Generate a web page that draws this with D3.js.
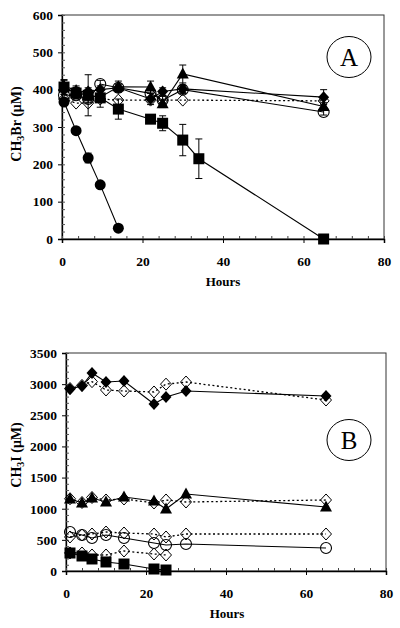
<!DOCTYPE html>
<html><head><meta charset="utf-8">
<script src="https://cdn.jsdelivr.net/npm/d3@7"></script>
<style>body{margin:0;background:#fff}svg{display:block}</style>
</head><body>
<script>
// ---------- Panel A data (CH3Br, µM) ----------
const hoursA = [0.5, 3.5, 6.5, 9.5, 14, 22, 25, 30, 65];
const hoursA_sq = [0.5, 3.5, 6.5, 9.5, 14, 22, 25, 30, 34, 65];
const hoursA_ci = [0.5, 3.5, 6.5, 9.5, 14];
const A_diamondFilled = [400, 395, 395, 400, 405, 375, 395, 402, 380];
const A_diamondFilledErr = [12, 10, 10, 10, 10, 15, 10, 10, 20];
const A_triangle = [410, 398, 385, 380, 408, 407, 362, 442, 355];
const A_triangleErr = [15, 12, 15, 10, 15, 16, 10, 24, 10];
const A_circleOpen = [385, 385, 375, 415, 405, 390, 372, 400, 340];
const A_circleOpenErr = [10, 10, 10, 10, 10, 10, 10, 10, 8];
const A_diamondOpen = [375, 364, 364, 375, 372, 372, 372, 372, 370];
const A_square = [407, 391, 385, 378, 348, 321, 310, 265, 215, 0];
const A_squareErr = [20, 15, 55, 25, 27, 10, 20, 42, 53, 0];
const A_circleFilled = [367, 290, 217, 145, 29];
const A_circleFilledErr = [8, 5, 13, 5, 6];
const ticksA_y = [0, 100, 200, 300, 400, 500, 600];

// ---------- Panel B data (CH3I, µM) ----------
const hoursB = [1, 4, 6.5, 10, 14.5, 22, 25, 30, 65];
const hoursB_short = [1, 4, 6.5, 10, 14.5, 22, 25];
const B_diamondFilled = [2921, 2970, 3178, 3034, 3050, 2681, 2793, 2890, 2810];
const B_diamondOpenTop = [2930, 2980, 3040, 2906, 2890, 2874, 3000, 3034, 2745];
const B_triangle = [1156, 1092, 1172, 1108, 1188, 1124, 995, 1236, 1027];
const B_diamondOpen2 = [1160, 1100, 1180, 1140, 1156, 1092, 1140, 1108, 1140];
const B_circleOpen = [626, 578, 530, 578, 530, 450, 417, 434, 369];
const B_diamondOpen3 = [546, 578, 594, 626, 610, 594, 546, 594, 594];
const B_diamondOpen4 = [290, 289, 257, 257, 321, 273, 257];
const B_square = [289, 241, 193, 145, 112, 32, 16];
const ticksB_y = [0, 500, 1000, 1500, 2000, 2500, 3000, 3500];
const ticksX = [0, 20, 40, 60, 80];

const FONT = "'Liberation Serif', 'Times New Roman', serif";
const svg = d3.select("body").append("svg").attr("width", 400).attr("height", 628);

function marker(g, type, x, y) {
  if (type === "circleFilled") g.append("circle").attr("cx", x).attr("cy", y).attr("r", 5.5).attr("fill", "#000");
  else if (type === "circleOpen") g.append("circle").attr("cx", x).attr("cy", y).attr("r", 5.5).attr("fill", "none").attr("stroke", "#000").attr("stroke-width", 1.1);
  else if (type === "square") g.append("rect").attr("x", x - 5.5).attr("y", y - 5.5).attr("width", 11).attr("height", 11).attr("fill", "#000");
  else if (type === "triangle") g.append("path").attr("d", `M${x},${y-6.5}L${x+6},${y+4.5}L${x-6},${y+4.5}Z`).attr("fill", "#000");
  else if (type === "diamondFilled") g.append("path").attr("d", `M${x},${y-6}L${x+5.5},${y}L${x},${y+6}L${x-5.5},${y}Z`).attr("fill", "#000");
  else if (type === "diamondOpen") g.append("path").attr("d", `M${x},${y-6}L${x+5.5},${y}L${x},${y+6}L${x-5.5},${y}Z`).attr("fill", "none").attr("stroke", "#000").attr("stroke-width", 1);
}

function panel(cfg) {
  const x = d3.scaleLinear().domain([0, 80]).range([cfg.x0, cfg.x1]);
  const y = d3.scaleLinear().domain([0, cfg.ymax]).range([cfg.yb, cfg.yt]);
  const g = svg.append("g");
  g.append("rect").attr("x", cfg.x0).attr("y", cfg.yt).attr("width", cfg.x1 - cfg.x0).attr("height", cfg.yb - cfg.yt)
    .attr("fill", "none").attr("stroke", "#333").attr("stroke-width", 1);
  const ya = g.append("g").attr("transform", `translate(${cfg.x0},0)`)
    .call(d3.axisLeft(y).tickValues(cfg.yticks).tickFormat(d3.format("d")).tickSize(4).tickPadding(5));
  ya.select(".domain").attr("stroke", "#000").attr("stroke-width", 1.3);
  ya.selectAll("text").attr("font-family", FONT).attr("font-weight", "bold").attr("font-size", 13.5).attr("fill", "#000");
  const ym = g.append("g").attr("transform", `translate(${cfg.x0},0)`)
    .call(d3.axisRight(y).ticks(cfg.yminor).tickSize(3).tickFormat(""));
  ym.select(".domain").remove();
  ym.selectAll("line").attr("stroke", "#555");
  const xa = g.append("g").attr("transform", `translate(0,${cfg.yb})`)
    .call(d3.axisBottom(x).tickValues(ticksX).tickFormat(d3.format("d")).tickSize(4).tickPadding(13));
  xa.select(".domain").attr("stroke", "#000").attr("stroke-width", 1.5);
  xa.selectAll("text").attr("font-family", FONT).attr("font-weight", "bold").attr("font-size", 13.5).attr("fill", "#000");
  const xm = g.append("g").attr("transform", `translate(0,${cfg.yb})`)
    .call(d3.axisTop(x).tickValues(d3.range(0, 81, 4)).tickSize(3).tickFormat(""));
  xm.select(".domain").remove();
  xm.selectAll("line").attr("stroke", "#444");
  g.append("text").attr("x", cfg.hx).attr("y", cfg.hy).attr("text-anchor", "middle")
    .attr("font-family", FONT).attr("font-weight", "bold").attr("font-size", 13).text("Hours");
  const yl = g.append("text").attr("transform", `translate(${cfg.lx},${cfg.ly}) rotate(-90)`).attr("text-anchor", "middle")
    .attr("font-family", FONT).attr("font-weight", "bold").attr("font-size", 14);
  yl.append("tspan").text("CH");
  yl.append("tspan").attr("font-size", 10).attr("dy", 3).text("3");
  yl.append("tspan").attr("dy", -3).text(cfg.ylab);
  g.append("ellipse").attr("cx", 349).attr("cy", cfg.ey).attr("rx", 22).attr("ry", 20.5).attr("fill", "none").attr("stroke", "#000").attr("stroke-width", 1);
  g.append("text").attr("x", 349).attr("y", cfg.ey + 8.5).attr("text-anchor", "middle").attr("font-family", FONT).attr("font-size", 25).text(cfg.letter);
  const line = d3.line().x(d => x(d[0])).y(d => y(d[1]));
  cfg.series.forEach(s => {
    const pts = s.h.map((h, i) => [h, s.v[i]]);
    g.append("path").attr("d", line(pts)).attr("fill", "none").attr("stroke", "#000")
      .attr("stroke-width", s.dash ? 1.3 : 1.1).attr("stroke-dasharray", s.dash ? "2,2.5" : null);
  });
  cfg.series.forEach(s => {
    if (s.e) s.h.forEach((h, i) => {
      const e = s.e[i]; if (!e) return;
      const cx = x(h), t = y(s.v[i] + e), b = y(Math.max(0, s.v[i] - e));
      g.append("line").attr("x1", cx).attr("x2", cx).attr("y1", t).attr("y2", b).attr("stroke", "#000").attr("stroke-width", 1);
      [t, b].forEach(yy => g.append("line").attr("x1", cx - 3.5).attr("x2", cx + 3.5).attr("y1", yy).attr("y2", yy).attr("stroke", "#000").attr("stroke-width", 1));
    });
    s.h.forEach((h, i) => marker(g, s.m, x(h), y(s.v[i])));
  });
}

panel({
  x0: 62, x1: 384, yt: 15, yb: 239, ymax: 600, yticks: ticksA_y, yminor: 30,
  hx: 223, hy: 286, lx: 21, ly: 124, ylab: "Br (μM)", letter: "A", ey: 57,
  series: [
    { h: hoursA, v: A_diamondOpen, m: "diamondOpen", dash: true },
    { h: hoursA, v: A_circleOpen, e: A_circleOpenErr, m: "circleOpen" },
    { h: hoursA, v: A_triangle, e: A_triangleErr, m: "triangle" },
    { h: hoursA, v: A_diamondFilled, e: A_diamondFilledErr, m: "diamondFilled" },
    { h: hoursA_sq, v: A_square, e: A_squareErr, m: "square" },
    { h: hoursA_ci, v: A_circleFilled, e: A_circleFilledErr, m: "circleFilled" }
  ]
});

panel({
  x0: 66, x1: 386, yt: 353, yb: 571, ymax: 3500, yticks: ticksB_y, yminor: 35,
  hx: 227, hy: 618, lx: 21, ly: 455, ylab: "I (μM)", letter: "B", ey: 440,
  series: [
    { h: hoursB, v: B_diamondOpenTop, m: "diamondOpen", dash: true },
    { h: hoursB, v: B_diamondFilled, m: "diamondFilled" },
    { h: hoursB, v: B_diamondOpen2, m: "diamondOpen", dash: true },
    { h: hoursB, v: B_triangle, m: "triangle" },
    { h: hoursB, v: B_diamondOpen3, m: "diamondOpen", dash: true },
    { h: hoursB, v: B_circleOpen, m: "circleOpen" },
    { h: hoursB_short, v: B_diamondOpen4, m: "diamondOpen", dash: true },
    { h: hoursB_short, v: B_square, m: "square" }
  ]
});
</script>
</body></html>
